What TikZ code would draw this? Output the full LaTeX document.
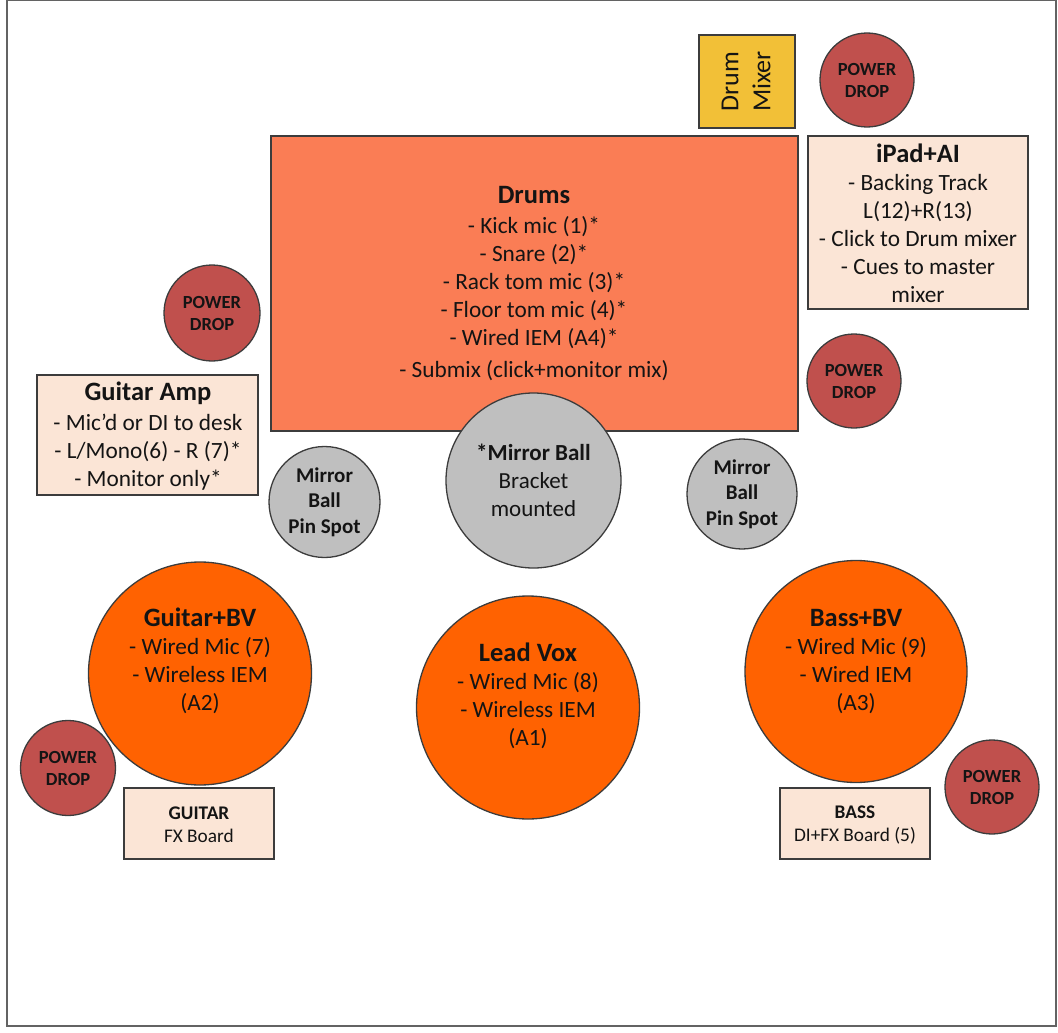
\documentclass[tikz,border=0pt]{standalone}
\usepackage{fontspec}
\setmainfont{Carlito}
\definecolor{drumc}{RGB}{250,125,85}
\definecolor{orangec}{RGB}{255,98,1}
\definecolor{pdred}{RGB}{192,80,77}
\definecolor{ballgray}{RGB}{191,191,191}
\definecolor{mixgold}{RGB}{242,192,55}
\definecolor{lightbox}{RGB}{251,229,214}
\definecolor{edge}{RGB}{60,60,60}
\definecolor{ink}{RGB}{20,20,20}
\tikzset{
  shapebase/.style={draw=edge, line width=1.3pt, inner sep=0pt, text=ink},
  boxshape/.style={shapebase, rectangle},
  roundshape/.style={shapebase, circle},
  powerdrop/.style={roundshape, fill=pdred, align=center,
    font=\bfseries\fontsize{18.5}{22}\selectfont},
  pinspot/.style={roundshape, fill=ballgray, minimum size=111pt},
  bigcirc/.style={roundshape, fill=orangec, minimum size=223pt},
  txt/.style={align=center, inner sep=0pt, text=ink, font=\fontsize{23.3}{28}\selectfont},
  smalltxt/.style={align=center, inner sep=0pt, text=ink, font=\fontsize{19.3}{23}\selectfont},
  pintxt/.style={align=center, inner sep=0pt, text=ink, font=\bfseries\fontsize{21}{25.5}\selectfont},
}
\newcommand{\ttl}[1]{{\bfseries\fontsize{26.5}{28}\selectfont #1}}
\begin{document}
\begin{tikzpicture}[x=1pt,y=-1pt]
\useasboundingbox (0,0) rectangle (1058,1033);
\draw[draw=edge!80, line width=1.5pt] (7,0.75) rectangle (1056,1026);

% Drum mixer
\node[boxshape, fill=mixgold, minimum width=96pt, minimum height=93pt] (mixer) at (747,81.5) {};
\node[rotate=90, align=center, inner sep=0pt, text=ink, font=\fontsize{26}{32}\selectfont] (mixer-t) at (746,81.5) {Drum\\Mixer};

% Power drops
\node[powerdrop, minimum size=94pt] (pd1) at (867,80) {POWER\\DROP};
\node[powerdrop, minimum size=96pt] (pd2) at (212,313) {POWER\\DROP};
\node[powerdrop, minimum size=94pt] (pd3) at (854,381) {POWER\\DROP};
\node[powerdrop, minimum size=95pt] (pd4) at (68,768) {POWER\\DROP};
\node[powerdrop, minimum size=94pt] (pd5) at (992,787) {POWER\\DROP};

% Drums
\node[boxshape, fill=drumc, minimum width=527pt, minimum height=295pt] (drums) at (534.5,283.5) {};
\node[txt] (drums-t) at (534,284) {\ttl{Drums}\\[2pt]- Kick mic (1)*\\- Snare (2)*\\- Rack tom mic (3)*\\- Floor tom mic (4)*\\- Wired IEM (A4)*\\[4pt]- Submix (click+monitor mix)};

% iPad
\node[boxshape, fill=lightbox, minimum width=220pt, minimum height=173pt] (ipad) at (918,222.5) {};
\node[txt] (ipad-t) at (918,223) {\ttl{iPad+AI}\\- Backing Track\\L(12)+R(13)\\- Click to Drum mixer\\- Cues to master\\mixer};

% Guitar amp
\node[boxshape, fill=lightbox, minimum width=221pt, minimum height=120pt] (amp) at (147.5,435) {};
\node[txt] (amp-t) at (148,436) {\ttl{Guitar Amp}\\[2pt]- Mic’d or DI to desk\\- L/Mono(6) - R (7)*\\- Monitor only*};

% Mirror ball and pin spots
\node[roundshape, fill=ballgray, minimum size=175pt] (ball) at (533.5,480.5) {};
\node[txt, font=\fontsize{23}{28}\selectfont] (ball-t) at (533.5,480) {{\bfseries *Mirror Ball}\\Bracket\\mounted};
\node[pinspot] (pinl) at (324.5,502) {};
\node[pintxt] (pinl-t) at (324.5,502) {Mirror\\Ball\\Pin Spot};
\node[pinspot, minimum size=110pt] (pinr) at (742,494) {};
\node[pintxt] (pinr-t) at (742,494) {Mirror\\Ball\\Pin Spot};

% Musicians
\node[bigcirc] (gbv) at (200,673.5) {};
\node[txt] (gbv-t) at (200,661) {\ttl{Guitar+BV}\\- Wired Mic (7)\\- Wireless IEM\\(A2)};
\node[bigcirc] (lv) at (528,707.5) {};
\node[txt] (lv-t) at (528,696) {\ttl{Lead Vox}\\- Wired Mic (8)\\- Wireless IEM\\(A1)};
\node[bigcirc, minimum size=222pt] (bbv) at (856,671.5) {};
\node[txt] (bbv-t) at (856,662) {\ttl{Bass+BV}\\- Wired Mic (9)\\- Wired IEM\\(A3)};

% Pedal boards
\node[boxshape, fill=lightbox, minimum width=150pt, minimum height=71pt] (gfx) at (199,823.5) {};
\node[smalltxt] (gfx-t) at (199,824.5) {{\bfseries GUITAR}\\FX Board};
\node[boxshape, fill=lightbox, minimum width=150pt, minimum height=71pt] (bfx) at (855,823.5) {};
\node[smalltxt] (bfx-t) at (855,825.5) {{\bfseries BASS}\\DI+FX Board (5)};
\end{tikzpicture}
\end{document}
